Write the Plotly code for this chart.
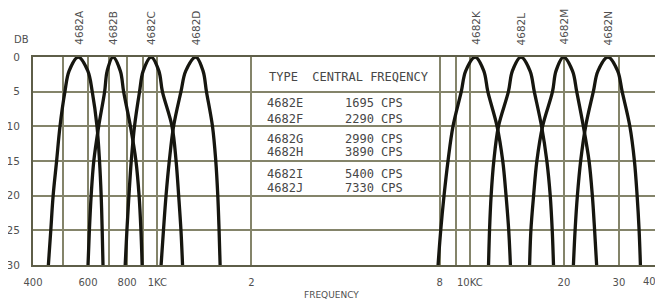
import math
import plotly.graph_objects as go

# ---- data ----
db_levels = [30, 25, 20, 15, 10, 5, 2, 0, 2, 5, 10, 15, 20, 25, 30]

freq_4682A = [448, 456, 464, 476, 488, 506, 522, 558, 599, 619, 641, 653, 661, 666, 670]
freq_4682B = [600, 606, 614, 626, 649, 678, 691, 721, 761, 780, 820, 854, 874, 886, 894]
freq_4682C = [789, 799, 811, 825, 845, 877, 901, 955, 1011, 1038, 1114, 1148, 1170, 1190, 1204]
freq_4682D = [1028, 1046, 1066, 1092, 1127, 1190, 1233, 1328, 1400, 1436, 1501, 1538, 1561, 1576, 1588]
freq_4682K = [7912, 8068, 8267, 8513, 8831, 9387, 9700, 10400, 11081, 11417, 12220, 12744, 13057, 13317, 13483]
freq_4682L = [11476, 11560, 11697, 11930, 12347, 13285, 13683, 14571, 15578, 16076, 16962, 17635, 18080, 18348, 18521]
freq_4682M = [15533, 15679, 15995, 16385, 17088, 18385, 18868, 19937, 21303, 21978, 23079, 24069, 24658, 25076, 25449]
freq_4682N = [21449, 21715, 22085, 22624, 23471, 24836, 25708, 27664, 29708, 30720, 32508, 33620, 34296, 34805, 35137]

curve_names = ["4682A", "4682B", "4682C", "4682D", "4682K", "4682L", "4682M", "4682N"]
curve_freqs = [freq_4682A, freq_4682B, freq_4682C, freq_4682D,
               freq_4682K, freq_4682L, freq_4682M, freq_4682N]

table_header = "TYPE  CENTRAL FREQENCY"
table_types = ["4682E", "4682F", "4682G", "4682H", "4682I", "4682J"]
table_freqs = ["1695 CPS", "2290 CPS", "2990 CPS", "3890 CPS", "5400 CPS", "7330 CPS"]
table_rows_db = [6.6, 8.9, 11.8, 13.7, 16.9, 18.9]

x_tickvals = [400, 500, 600, 700, 800, 900, 1000, 2000, 8000, 9000, 10000, 20000, 30000, 40000]
x_ticktext = ["400", "", "600", "", "800", "", "1KC", "2", "8", "", "10KC", "20", "30", ""]
x_last_label = "40"
y_tickvals = [0, 5, 10, 15, 20, 25, 30]

# ---- styling ----
GRID = "#84846a"
BORDER = "#5e5e48"
CURVE = "#16160f"
TEXT = "#505050"
FONT = "DejaVu Sans"
MONO = "DejaVu Sans Mono"

fig = go.Figure()
for name, fr in zip(curve_names, curve_freqs):
    fig.add_trace(go.Scatter(
        x=fr, y=db_levels, mode="lines", name=name, showlegend=False,
        hoverinfo="skip",
        line=dict(color=CURVE, width=3.3, shape="spline", smoothing=1.0),
    ))

# curve labels (rotated) above the plot
for name, fr in zip(curve_names, curve_freqs):
    peak = fr[db_levels.index(0)]
    fig.add_annotation(
        x=math.log10(peak), xref="x", y=1, yref="paper",
        yanchor="bottom", yshift=10, textangle=-90, showarrow=False,
        text=name, font=dict(family=FONT, size=10.5, color=TEXT),
    )

# table text
TAB = dict(family=MONO, size=12, color="#474747")
fig.add_annotation(x=3.351, y=2.9, xref="x", yref="y", xanchor="left",
                   showarrow=False, text=table_header.replace(" ", "&nbsp;"), font=TAB)
for t, f, d in zip(table_types, table_freqs, table_rows_db):
    fig.add_annotation(x=3.344, y=d, xref="x", yref="y", xanchor="left",
                       showarrow=False, text=t, font=TAB)
    fig.add_annotation(x=3.792, y=d, xref="x", yref="y", xanchor="right",
                       showarrow=False, text=f, font=TAB)

# DB label, last tick label and axis title
fig.add_annotation(x=0, y=1, xref="paper", yref="paper", xanchor="center",
                   yanchor="middle", xshift=-12, yshift=18, showarrow=False,
                   text="DB", font=dict(family=FONT, size=10, color=TEXT))
fig.add_annotation(x=1, y=0, xref="paper", yref="paper", xanchor="right",
                   yanchor="middle", xshift=0, yshift=-16, showarrow=False,
                   text=x_last_label, font=dict(family=FONT, size=10, color=TEXT))
fig.add_annotation(x=0.478, y=0, xref="paper", yref="paper", xanchor="center",
                   yanchor="middle", yshift=-30, showarrow=False,
                   text="FREQUENCY", font=dict(family=FONT, size=9, color=TEXT))

fig.update_layout(
    width=655, height=293,
    margin=dict(l=25, r=5, t=49, b=36),
    paper_bgcolor="white", plot_bgcolor="white",
    font=dict(family=FONT, color=TEXT),
    xaxis=dict(
        type="log", range=[math.log10(400), math.log10(40000)],
        tickmode="array", tickvals=x_tickvals, ticktext=x_ticktext,
        showgrid=True, gridcolor=GRID, gridwidth=1.5,
        showline=True, mirror=True, linecolor=BORDER, linewidth=2,
        zeroline=False, ticks="outside", ticklen=7, tickcolor="rgba(0,0,0,0)",
        tickfont=dict(family=FONT, size=10, color=TEXT), automargin=False,
    ),
    yaxis=dict(
        range=[30, 0], tickmode="array", tickvals=y_tickvals,
        showgrid=True, gridcolor=GRID, gridwidth=1.5,
        showline=True, mirror=True, linecolor=BORDER, linewidth=2,
        zeroline=False, ticks="outside", ticklen=9, tickcolor="rgba(0,0,0,0)",
        tickfont=dict(family=FONT, size=10.5, color=TEXT), automargin=False,
    ),
)

fig.write_html("out.html")
